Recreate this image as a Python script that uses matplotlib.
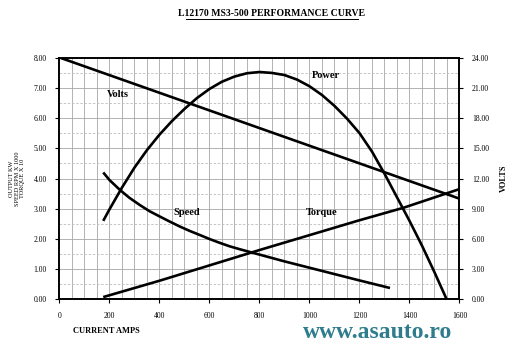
import matplotlib
matplotlib.use("Agg")
import matplotlib.pyplot as plt
import numpy as np

# ---- data ----
power_amps = [175, 200, 250, 300, 350, 400, 450, 500, 550, 600, 650, 700, 750, 800,
              850, 900, 950, 1000, 1050, 1100, 1150, 1200, 1250, 1300, 1350, 1400,
              1450, 1500, 1549]
power_kw = [2.60, 2.98, 3.70, 4.36, 4.94, 5.45, 5.90, 6.30, 6.66, 6.96, 7.20, 7.37,
            7.48, 7.52, 7.49, 7.42, 7.27, 7.05, 6.76, 6.40, 5.98, 5.50, 4.89, 4.16,
            3.38, 2.60, 1.78, 0.90, 0.0]

speed_amps = [175, 200, 242, 280, 322, 360, 402, 440, 482, 520, 562, 600, 642, 680,
              722, 775, 802, 900, 1000, 1100, 1200, 1322]
speed_val = [4.20, 3.95, 3.62, 3.36, 3.12, 2.92, 2.74, 2.58, 2.41, 2.27, 2.13, 2.00,
             1.87, 1.76, 1.66, 1.54, 1.48, 1.26, 1.05, 0.84, 0.63, 0.38]

torque_amps = [175, 400, 802, 1200, 1375, 1600]
torque_val = [0.08, 0.62, 1.64, 2.62, 3.03, 3.65]

volts_amps = [0, 400, 800, 1200, 1600]
volts_val = [24.0, 20.5, 17.0, 13.5, 10.0]

x_ticks = [0, 200, 400, 600, 800, 1000, 1200, 1400, 1600]
left_ticks = [0, 1, 2, 3, 4, 5, 6, 7, 8]
right_ticks = [0, 3, 6, 9, 12, 15, 18, 21, 24]

serif = ["Liberation Serif", "DejaVu Serif"]

fig = plt.figure(figsize=(5.11, 3.50), dpi=100)
ax = fig.add_axes([0.1164, 0.1443, 0.7828, 0.6914])
ax.set_xlim(0, 1600)
ax.set_ylim(0, 8)

# grid
for xv in np.arange(50, 1600, 50):
    ax.axvline(xv, color="#a6a6a6", lw=0.6, zorder=1)
for yv in np.arange(1, 8, 1):
    ax.axhline(yv, color="#a6a6a6", lw=0.6, zorder=1)
for yv in np.arange(0.5, 8, 1):
    ax.axhline(yv, color="#bdbdbd", lw=0.6, ls=(0, (3, 2)), zorder=1)

lw = 1.9
kw = dict(color="black", lw=lw, zorder=3, solid_capstyle="butt", solid_joinstyle="round")
ax.plot(power_amps, power_kw, **kw)
ax.plot(speed_amps, speed_val, **kw)
ax.plot(torque_amps, torque_val, **kw)

ax2 = ax.twinx()
ax2.set_ylim(0, 24)
ax2.plot(volts_amps, volts_val, **kw)

for a in (ax, ax2):
    for s in a.spines.values():
        s.set_linewidth(1.2)

ax.set_xticks(x_ticks)
ax.set_xticklabels([str(v) for v in x_ticks], fontfamily=serif, fontsize=5.5)
ax.set_yticks(left_ticks)
ax.set_yticklabels([f"{v:.2f}" for v in left_ticks], fontfamily=serif, fontsize=5.5)
ax2.set_yticks(right_ticks)
ax2.set_yticklabels([f"{v:.2f}" for v in right_ticks], fontfamily=serif, fontsize=5.5)
ax.tick_params(axis="both", length=3, width=0.8, pad=6)
ax2.tick_params(axis="y", length=3, width=0.8, pad=6)

ax.set_ylabel("OUTPUT KW\nSPEED RPM X 1000\nTORQUE X 10", fontfamily=serif,
              fontsize=4.5, linespacing=1.2, labelpad=6)
ax2.set_ylabel("VOLTS", fontfamily=serif, fontsize=6, fontweight="bold", labelpad=8)

# curve labels
lab = dict(fontfamily=serif, fontsize=7.5, fontweight="bold", ha="center", va="center", zorder=4)
ax.text(235, 6.77, "Volts", **lab)
ax.text(1065, 7.39, "Power", **lab)
ax.text(510, 2.89, "Speed", **lab)
ax.text(1050, 2.89, "Torque", **lab)

fig.text(272 / 511, 1 - 14 / 350, "L12170 MS3-500 PERFORMANCE CURVE", fontfamily=serif,
         fontsize=7, fontweight="bold", ha="center", va="center")
# underline
fig.add_artist(plt.Line2D([186 / 511, 358 / 511], [1 - 19 / 350, 1 - 19 / 350],
                          color="black", lw=0.7))

fig.text(73 / 511, 1 - 331 / 350, "CURRENT AMPS", fontfamily=serif, fontsize=6,
         fontweight="bold", ha="left", va="center")
fig.text(378 / 511, 1 - 332 / 350, "www.asauto.ro", fontfamily=serif, fontsize=17,
         fontweight="bold", color="#2e7c8c", ha="center", va="center")

fig.savefig("out.png", dpi=100, facecolor="white")
